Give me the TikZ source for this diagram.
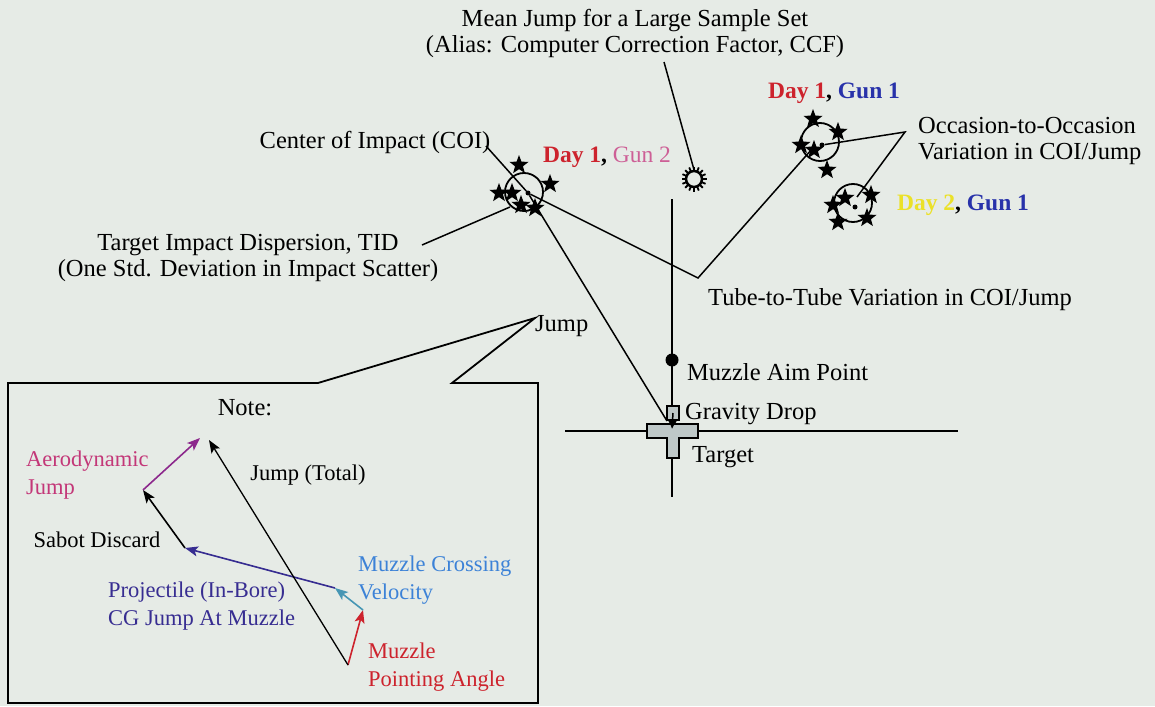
\documentclass[tikz,border=0pt]{standalone}
\usepackage{fontspec}
\setmainfont{Liberation Serif}
\usetikzlibrary{shapes.geometric,arrows.meta,calc}
\definecolor{bg}{RGB}{230,235,230}
\definecolor{dayred}{RGB}{205,35,45}
\definecolor{gunpink}{RGB}{205,95,150}
\definecolor{gunblue}{RGB}{40,50,170}
\definecolor{dayyellow}{RGB}{235,225,40}
\definecolor{aeromag}{RGB}{195,55,120}
\definecolor{aeroarrow}{RGB}{140,40,140}
\definecolor{projblue}{RGB}{55,45,145}
\definecolor{mcvblue}{RGB}{60,130,215}
\definecolor{mcvarrow}{RGB}{70,150,180}
\definecolor{targetgray}{RGB}{190,200,200}
\tikzset{
  lbl/.style={inner sep=0pt, font=\fontsize{24.5}{26}\selectfont},
  smalllbl/.style={inner sep=0pt, font=\fontsize{22.5}{28}\selectfont},
  daylbl/.style={inner sep=0pt, font=\fontsize{23.5}{26}\selectfont\bfseries},
  shot/.style={star, star points=5, star point ratio=2.4, minimum size=20pt, inner sep=0pt, fill=black, draw=none},
  coi/.style={circle, draw=black, line width=1.8pt, minimum size=38pt, inner sep=0pt},
  ln/.style={line width=1.5pt, black},
  vec/.style={line width=1.6pt, -{Stealth[length=13pt,width=10pt,inset=3pt]}},
}
\begin{document}
\begin{tikzpicture}[x=1pt,y=-1pt]
\fill[bg] (0,0) rectangle (1155,706);
\useasboundingbox (0,0) rectangle (1155,706);

% ---- axes and target
\coordinate (vtop) at (672,199);
\coordinate (vbot) at (672,497);
\coordinate (hleft) at (565,431);
\coordinate (hright) at (958,431);
\draw[ln] (vtop) -- (vbot);
\draw[ln] (hleft) -- (hright);
\fill[targetgray, draw=black, line width=1.2pt]
  (647,424) -- (698,424) -- (698,438) -- (679,438) -- (679,458) -- (667,458) -- (667,438) -- (647,438) -- cycle;
\node[draw=black, fill=targetgray, line width=1.2pt, minimum width=12pt, minimum height=14pt, inner sep=0pt] (gbox) at (673,413) {};
\coordinate (gtip) at (672,429);
\draw[ln, -{Latex[length=8pt,width=9pt]}] (gbox.center) -- (gtip);
\node[circle, fill=black, minimum size=13pt, inner sep=0pt] (aim) at (672,360) {};
\node[lbl, anchor=west] (aimlbl) at (687,372) {Muzzle Aim Point};
\node[lbl, anchor=west] (gravlbl) at (685,414) {Gravity Drop};
\node[lbl, anchor=west] (tgtlbl) at (692,457) {Target};
\coordinate (tgt) at (667,421);

% ---- Day 1, Gun 2 cluster
\node[coi] (c12) at (524,192) {};
\node[circle, fill=black, minimum size=5pt, inner sep=0pt] (d12) at (528,193) {};
\node[shot] (s12a) at (519,165) {};
\node[shot] (s12b) at (550,184) {};
\node[shot] (s12c) at (499,193) {};
\node[shot] (s12d) at (512,193) {};
\node[shot] (s12e) at (521,205) {};
\node[shot] (s12f) at (535,208) {};
\node[daylbl] (day12) at (607,157) {\textcolor{dayred}{Day 1}, \textcolor{gunpink}{\mdseries Gun 2}};

% ---- Day 1, Gun 1 cluster
\node[coi] (c11) at (820,142) {};
\node[circle, fill=black, minimum size=5pt, inner sep=0pt] (d11) at (822,145) {};
\node[shot] (s11a) at (813,119) {};
\node[shot] (s11b) at (838,132) {};
\node[shot] (s11c) at (801,145) {};
\node[shot] (s11d) at (814,150) {};
\node[shot] (s11e) at (827,170) {};
\node[daylbl] (day11) at (834,93) {\textcolor{dayred}{Day 1}, \textcolor{gunblue}{Gun 1}};

% ---- Day 2, Gun 1 cluster
\node[coi] (c21) at (853,203) {};
\node[circle, fill=black, minimum size=5pt, inner sep=0pt] (d21) at (855,207) {};
\node[shot] (s21a) at (845,198) {};
\node[shot] (s21b) at (833,205) {};
\node[shot] (s21c) at (871,195) {};
\node[shot] (s21d) at (838,222) {};
\node[shot] (s21e) at (867,218) {};
\node[daylbl] (day21) at (963,205) {\textcolor{dayyellow}{Day 2}, \textcolor{gunblue}{Gun 1}};

% ---- mean jump symbol
\node[circle, draw=black, line width=2.5pt, minimum size=16pt, inner sep=0pt] (mj) at (694,179) {};
\foreach \a in {0,22.5,...,337.5} \draw[line width=1.8pt] ($(mj.center)+(\a:8)$) -- ($(mj.center)+(\a:12.5)$);
\node[lbl, align=center] (mjlbl) at (635,33) {Mean Jump for a Large Sample Set\\(Alias: Computer Correction Factor, CCF)};
\coordinate (mjl) at (664,62);
\draw[ln] (mjl) -- (mj.north);

% ---- labels and leader lines
\node[lbl] (coilbl) at (375,142) {Center of Impact (COI)};
\coordinate (coil) at (486,146);
\draw[ln] (coil) -- (d12);

\node[lbl, align=center] (tidlbl) at (248,258) {Target Impact Dispersion, TID\\(One Std. Deviation in Impact Scatter)};
\coordinate (tidl) at (422,245);
\coordinate (tide) at (510,207);
\draw[ln] (tidl) -- (tide);

\node[lbl] (ttlbl) at (890,300) {Tube-to-Tube Variation in COI/Jump};
\coordinate (ttv) at (698,278);
\coordinate (tt11) at (812,149);
\draw[ln] (d12) -- (ttv) -- (tt11);

\node[lbl, anchor=west, align=left] (oolbl) at (918,141) {Occasion-to-Occasion\\Variation in COI/Jump};
\coordinate (oov) at (905,132);
\coordinate (oo21) at (857,197);
\draw[ln] (d11) -- (oov) -- (oo21);

% jump line
\draw[ln] (tgt) -- (d12);

% ---- callout box
\node[lbl, anchor=west] (jumplbl) at (535,326) {Jump};
\coordinate (jv) at (535,318);
\draw[line width=1.8pt] (8,703) -- (8,383) -- (318,383) -- (jv) -- (452,383) -- (538,383) -- (538,703) -- cycle;

\node[lbl] (note) at (245,408) {Note:};
\coordinate (p0) at (348,665);
\coordinate (p1) at (363,610);
\coordinate (p2) at (335,588);
\coordinate (p3) at (185,548);
\coordinate (p4) at (143,490);
\coordinate (p5) at (200,438);
\coordinate (pt) at (209,440);
\draw[vec, dayred] (p0) -- (p1);
\draw[vec, mcvarrow] (p1) -- (p2);
\draw[vec, projblue] (p2) -- (p3);
\draw[vec, black] (p3) -- (p4);
\draw[vec, aeroarrow] (p4) -- (p5);
\draw[vec, black, line width=1.3pt] (p0) -- (pt);

\node[smalllbl] (jtot) at (308,475) {Jump (Total)};
\node[smalllbl, anchor=west, align=left, text=aeromag] (aero) at (26,475) {Aerodynamic\\Jump};
\node[smalllbl] (sabot) at (97,540) {Sabot Discard};
\node[smalllbl, anchor=west, align=left, text=projblue] (proj) at (108,606) {Projectile (In-Bore)\\CG Jump At Muzzle};
\node[smalllbl, anchor=west, align=left, text=mcvblue] (mcv) at (358,580) {Muzzle Crossing\\Velocity};
\node[smalllbl, anchor=west, align=left, text=dayred] (mpa) at (368,667) {Muzzle\\Pointing Angle};
\end{tikzpicture}
\end{document}
